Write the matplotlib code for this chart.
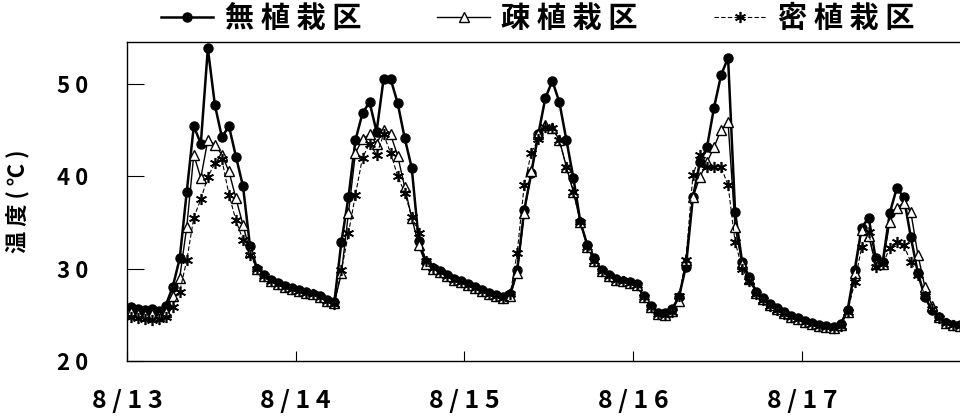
import numpy as np
import matplotlib
matplotlib.use("Agg")
import matplotlib.pyplot as plt

plt.rcParams['font.family'] = ['Noto Sans CJK JP', 'DejaVu Sans']

# hourly temperatures, 8/13 0:00 - 8/17 23:00
days = ["8/13", "8/14", "8/15", "8/16", "8/17"]
names = ["無植栽区", "疎植栽区", "密植栽区"]

no_plant = [25.8, 25.6, 25.5, 25.6, 25.4, 26.0, 28.0, 31.1, 38.3, 45.4, 43.5, 53.8,
            47.7, 44.2, 45.4, 42.1, 38.9, 32.4, 30.0, 29.3, 28.8, 28.4, 28.1, 27.9,
            27.7, 27.5, 27.3, 27.0, 26.6, 26.4, 32.9, 37.7, 43.9, 46.8, 48.0, 44.8,
            50.5, 50.5, 47.9, 44.1, 40.9, 33.0, 30.7, 30.1, 29.7, 29.3, 28.9, 28.6,
            28.3, 28.0, 27.7, 27.4, 27.1, 26.9, 27.2, 29.8, 36.3, 40.3, 44.5, 48.4,
            50.3, 48.0, 43.9, 39.8, 35.0, 32.5, 31.1, 29.8, 29.3, 28.9, 28.7, 28.5,
            28.3, 27.0, 25.9, 25.2, 25.2, 25.6, 26.9, 30.2, 37.7, 41.5, 43.1, 47.4,
            50.9, 52.8, 36.1, 30.7, 29.1, 27.5, 26.8, 26.2, 25.7, 25.3, 24.9, 24.6,
            24.3, 24.1, 23.9, 23.8, 23.7, 24.0, 25.5, 29.8, 34.4, 35.5, 31.1, 30.7,
            36.0, 38.7, 37.7, 33.4, 29.5, 26.9, 25.5, 24.8, 24.1, 23.9, 23.9, 23.8]

sparse = [25.3, 25.1, 25.0, 25.1, 24.9, 25.3, 27.0, 29.0, 34.5, 42.3, 39.8, 43.9,
          43.4, 42.3, 40.5, 37.6, 34.7, 31.8, 30.0, 29.2, 28.7, 28.3, 28.0, 27.8,
          27.6, 27.4, 27.2, 26.9, 26.5, 26.3, 29.5, 36.0, 42.5, 44.0, 44.5, 43.5,
          45.0, 44.5, 42.2, 38.8, 35.5, 32.5, 30.5, 30.0, 29.6, 29.2, 28.8, 28.5,
          28.2, 27.9, 27.6, 27.3, 27.0, 26.8, 27.0, 29.5, 36.0, 40.5, 44.5, 45.5,
          45.2, 43.9, 41.0, 38.3, 35.0, 32.3, 30.8, 29.7, 29.2, 28.8, 28.6, 28.4,
          28.2, 26.9, 25.8, 25.1, 25.0, 25.4, 26.5, 30.9, 37.7, 39.9, 41.5, 43.1,
          45.0, 45.8, 34.5, 30.5, 28.9, 27.4, 26.7, 26.1, 25.6, 25.2, 24.8, 24.5,
          24.2, 24.0, 23.8, 23.7, 23.6, 23.9, 25.3, 29.5, 34.2, 33.5, 30.5, 30.5,
          35.0, 36.6, 37.1, 36.1, 31.5, 28.0, 26.0, 24.8, 24.1, 23.9, 23.8, 23.8]

dense = [24.8, 24.6, 24.5, 24.4, 24.5, 24.8, 25.8, 27.5, 30.9, 35.5, 37.5, 39.9,
         41.4, 41.8, 38.0, 35.2, 33.1, 31.5, 30.0, 29.2, 28.7, 28.3, 28.0, 27.8,
         27.6, 27.4, 27.2, 26.9, 26.5, 26.2, 29.8, 33.8, 38.0, 42.0, 43.5, 42.3,
         44.5, 42.5, 40.0, 38.2, 35.6, 33.8, 30.8, 30.1, 29.6, 29.2, 28.8, 28.5,
         28.2, 27.9, 27.6, 27.3, 27.0, 26.8, 27.2, 31.7, 39.0, 42.5, 44.0, 45.3,
         45.2, 43.9, 41.0, 38.3, 35.0, 32.3, 30.8, 29.7, 29.2, 28.8, 28.6, 28.4,
         28.2, 26.9, 25.8, 25.1, 25.0, 25.3, 27.0, 30.9, 40.1, 42.3, 41.0, 41.0,
         41.0, 39.0, 32.9, 30.0, 28.7, 27.3, 26.6, 26.0, 25.5, 25.1, 24.8, 24.5,
         24.2, 24.0, 23.8, 23.7, 23.6, 23.8, 25.3, 28.5, 32.3, 33.9, 30.2, 30.5,
         32.2, 32.9, 32.5, 30.7, 29.3, 27.0, 25.6, 24.7, 24.1, 23.9, 23.8, 23.8]

hours = np.arange(len(no_plant)) + 0.5

fig = plt.figure(figsize=(9.6, 4.16), dpi=100)
ax = fig.add_axes([127/960, 55/416, 843.6/960, 319/416])

ax.plot(hours, no_plant, color='black', lw=1.8, marker='o', ms=6.5,
        mfc='black', mec='black', label=" ".join(names[0]), zorder=3)
ax.plot(hours, sparse, color='black', lw=1.0, marker='^', ms=6.5,
        mfc='white', mec='black', mew=1.0, label=" ".join(names[1]), zorder=4)
ax.plot(hours, dense, color='black', lw=0.8, ls=(0, (4, 2)), marker=(6, 2, 0),
        ms=8, mec='black', mew=1.2, label=" ".join(names[2]), zorder=5)

ax.set_xlim(0, 120)
ax.set_ylim(20, 54.5)
ax.set_xticks(np.arange(len(days)) * 24)
ax.set_xticklabels([" ".join(d) for d in days], fontsize=18, fontweight='bold')
ax.set_yticks([20, 30, 40, 50])
ax.set_yticklabels([" ".join(str(v)) for v in [20, 30, 40, 50]],
                   fontsize=16, fontweight='bold')
ax.tick_params(axis='x', direction='in', length=7, pad=20)
ax.tick_params(axis='y', direction='in', length=12, pad=28)
for s in ax.spines.values():
    s.set_linewidth(1.0)

ax.set_ylabel("温 度 ( ℃ )", fontsize=16, fontweight='bold')
ax.yaxis.set_label_coords(-0.116, 0.5)

fig.legend(loc='center', bbox_to_anchor=(0.56, 0.957), ncol=3, frameon=False,
           prop={'size': 21, 'weight': 'bold'}, handlelength=1.8,
           handletextpad=0.4, columnspacing=2.6, borderpad=0)

fig.savefig("out.png", dpi=100)
